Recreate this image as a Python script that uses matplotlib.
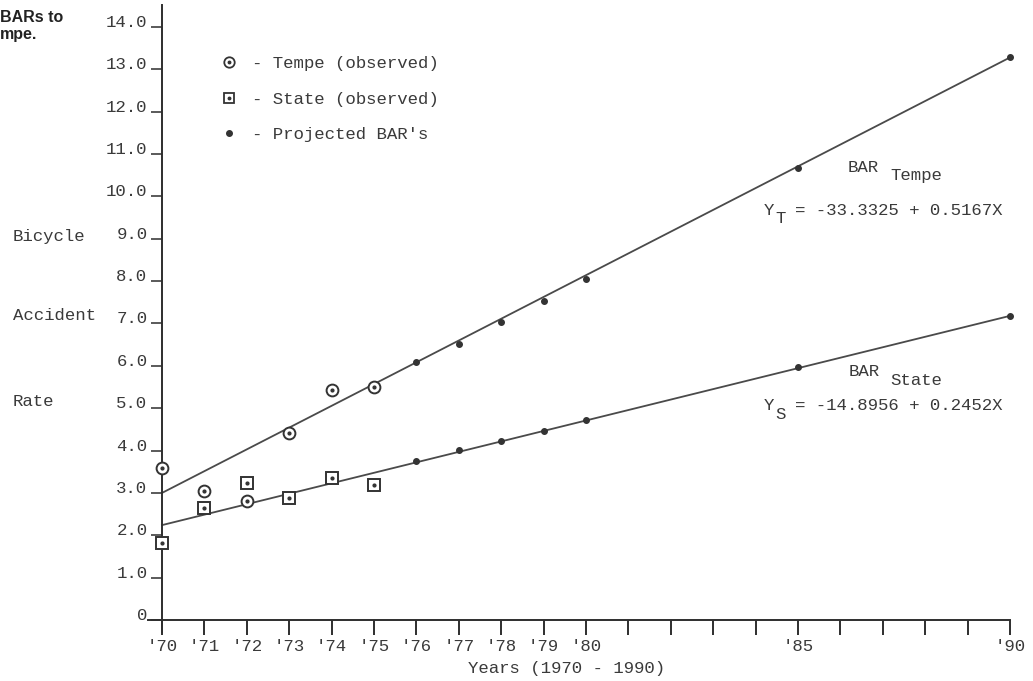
import matplotlib
matplotlib.use("Agg")
import matplotlib.pyplot as plt
from matplotlib.lines import Line2D
from matplotlib.legend_handler import HandlerTuple

# ---------------- data ----------------
obs_years = [1970, 1971, 1972, 1973, 1974, 1975]
tempe_obs = [3.60, 3.05, 2.82, 4.41, 5.43, 5.49]
state_obs = [1.81, 2.65, 3.23, 2.87, 3.36, 3.19]

proj_years = [1976, 1977, 1978, 1979, 1980, 1985, 1990]
tempe_proj = [6.10, 6.51, 7.04, 7.53, 8.05, 10.66, 13.28]
state_proj = [3.76, 4.01, 4.23, 4.47, 4.72, 5.98, 7.18]

line_years = [1970, 1990]
tempe_line = [3.00, 13.28]
state_line = [2.24, 7.18]

ytick_values = [0, 1, 2, 3, 4, 5, 6, 7, 8, 9, 10, 11, 12, 13, 14]
ytick_labels = ["0", "1.0", "2.0", "3.0", "4.0", "5.0", "6.0", "7.0",
                "8.0", "9.0", "10.0", "11.0", "12.0", "13.0", "14.0"]
xtick_years = list(range(1970, 1991))
xtick_labels = ["'70", "'71", "'72", "'73", "'74", "'75", "'76", "'77",
                "'78", "'79", "'80", "", "", "", "", "'85", "", "", "", "", "'90"]

legend_labels = ["- Tempe (observed)", "- State (observed)", "- Projected BAR's"]
eq_tempe = "= -33.3325 + 0.5167X"
eq_state = "= -14.8956 + 0.2452X"

# ---------------- style ----------------
W, H = 1033, 681
MONO = ["Liberation Mono", "DejaVu Sans Mono"]
INK = "#3a3a3a"
LINE = "#4a4a4a"
FS = 12.5

fig = plt.figure(figsize=(W / 100, H / 100), dpi=100)
fig.patch.set_facecolor("white")

# axes box in pixels: left 148, right 1010, top 5, bottom 632
ax = fig.add_axes([148 / W, 1 - 632 / H, 862 / W, 627 / H])
ax.set_facecolor("white")
ax.set_xlim(1970 - 14 / 42.4, 1990)
ax.set_ylim(-12 / 42.36, 615 / 42.36)

for s in ("top", "right"):
    ax.spines[s].set_visible(False)
ax.spines["left"].set_position(("data", 1970))
ax.spines["bottom"].set_position(("data", 0))
for s in ("left", "bottom"):
    ax.spines[s].set_color("#2e2e2e")
    ax.spines[s].set_linewidth(1.4)

ax.set_xticks(xtick_years)
ax.set_xticklabels(xtick_labels, fontfamily=MONO, fontsize=FS, color=INK)
ax.set_yticks(ytick_values)
ax.set_yticklabels(ytick_labels, fontfamily=MONO, fontsize=FS, color=INK)
ax.tick_params(axis="x", direction="out", length=10.5, width=1.4,
               color="#2e2e2e", pad=3)
ax.tick_params(axis="y", direction="out", length=8.0, width=1.1,
               color="#2e2e2e", pad=2.5)
for lab in ax.get_yticklabels():
    lab.set_verticalalignment("baseline")

# regression lines
ax.plot(line_years, tempe_line, color=LINE, lw=1.3, clip_on=False, zorder=2)
ax.plot(line_years, state_line, color=LINE, lw=1.3, clip_on=False, zorder=2)

# projected points
ax.plot(proj_years, tempe_proj, "o", ms=4, color="#333333", clip_on=False, zorder=3)
ax.plot(proj_years, state_proj, "o", ms=4, color="#333333", clip_on=False, zorder=3)

# observed points
ax.plot(obs_years, tempe_obs, "o", ms=8.5, mfc="white", mec="#333333",
        mew=1.4, clip_on=False, zorder=4)
ax.plot(obs_years, tempe_obs, "o", ms=2, color="#333333", clip_on=False, zorder=5)
ax.plot(obs_years, state_obs, "s", ms=8.5, mfc="white", mec="#333333",
        mew=1.4, clip_on=False, zorder=4)
ax.plot(obs_years, state_obs, "o", ms=2, color="#333333", clip_on=False, zorder=5)

# legend
h_tempe = (Line2D([], [], ls="none", marker="o", ms=7.5, mfc="white", mec="#333333", mew=1.3),
           Line2D([], [], ls="none", marker="o", ms=1.8, color="#333333"))
h_state = (Line2D([], [], ls="none", marker="s", ms=7.5, mfc="white", mec="#333333", mew=1.3),
           Line2D([], [], ls="none", marker="o", ms=1.8, color="#333333"))
h_proj = Line2D([], [], ls="none", marker="o", ms=4, color="#333333")
leg = ax.legend([h_tempe, h_state, h_proj], legend_labels,
                handler_map={tuple: HandlerTuple(ndivide=1)},
                loc="upper left", bbox_to_anchor=(220 / W, 1 - 56 / H),
                bbox_transform=fig.transFigure, frameon=False,
                prop={"family": MONO, "size": FS}, handlelength=1.0,
                handletextpad=0.84, labelspacing=1.17, borderpad=0,
                borderaxespad=0)
for t in leg.get_texts():
    t.set_color(INK)


def ftext(px, py, s, **kw):
    kw.setdefault("family", MONO)
    kw.setdefault("fontsize", FS)
    kw.setdefault("color", INK)
    fig.text(px / W, 1 - py / H, s, **kw)


# y-axis label (three lines)
ftext(13, 237, "Bicycle", va="center", ha="left")
ftext(13, 315, "Accident", va="center", ha="left")
ftext(13, 402, "Rate", va="center", ha="left")

# x-axis label
ftext(468, 668, "Years (1970 - 1990)", va="center", ha="left")

# equations
ftext(848, 171.5, "BAR", va="baseline", ha="left")
ftext(890, 180, "Tempe", va="baseline", ha="left")
ftext(764, 215, "Y", va="baseline", ha="left")
ftext(775, 223, "T", va="baseline", ha="left")
ftext(795, 215, eq_tempe, va="baseline", ha="left")

ftext(849, 376.5, "BAR", va="baseline", ha="left")
ftext(890, 385, "State", va="baseline", ha="left")
ftext(764, 409.5, "Y", va="baseline", ha="left")
ftext(775, 419, "S", va="baseline", ha="left")
ftext(795, 409.5, eq_state, va="baseline", ha="left")

# caption fragments at top-left (cropped in the original scan)
ftext(0, 17, "BARs to", va="center", ha="left",
      family=["Liberation Sans", "DejaVu Sans"], fontsize=11.5,
      fontweight="bold", color="#222222")
ftext(0, 34, "mpe.", va="center", ha="left",
      family=["Liberation Sans", "DejaVu Sans"], fontsize=11.5,
      fontweight="bold", color="#222222")

fig.savefig("out.png", dpi=100, facecolor="white")
